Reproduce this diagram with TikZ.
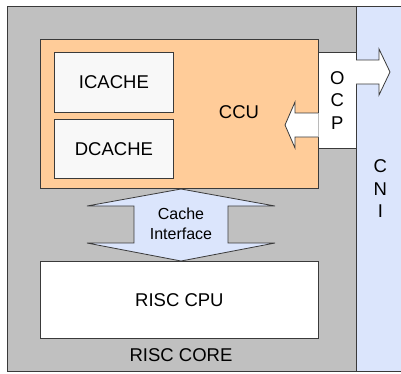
\documentclass[tikz,border=0pt]{standalone}
\usepackage{fontspec}
\setmainfont{Liberation Sans}
\usepackage{xcolor}
\usetikzlibrary{positioning, calc}

\definecolor{coregray}{HTML}{C0C0C0}
\definecolor{ccuorange}{HTML}{FFCC99}
\definecolor{cniblue}{HTML}{DBE5FC}
\definecolor{cachegray}{HTML}{F8F8F8}
\definecolor{edgegray}{HTML}{3A3A3A}

\begin{document}
\begin{tikzpicture}[x=1pt, y=-1pt,
    block/.style={rectangle, draw=edgegray, line width=0.8pt, anchor=north west, inner sep=0pt, align=center, font=\fontsize{18.5}{22.5}\selectfont},
    txt/.style={inner sep=0pt, align=center, font=\fontsize{18.5}{22.5}\selectfont},
    bigarrow/.style={draw=edgegray, line width=0.8pt, line join=miter}
]
    \useasboundingbox (0,0) rectangle (401,373);

    % Blocs extérieurs : cœur RISC et interface CNI
    \node[block, fill=coregray, minimum width=349pt, minimum height=365pt] (core) at (7,6) {};
    \node[block, fill=cniblue, minimum width=48pt, minimum height=365pt] (cni) at (356,6) {C\\N\\I};
    \node[txt] (corelabel) at (181,355) {RISC CORE};

    % Contrôleur de cache et ses mémoires
    \node[block, fill=ccuorange, minimum width=278pt, minimum height=149pt] (ccu) at (40,39) {};
    \node[block, fill=cachegray, minimum width=119pt, minimum height=60pt] (icache) at (54,52) {ICACHE};
    \node[block, fill=cachegray, minimum width=119pt, minimum height=59pt] (dcache) at (54,119) {DCACHE};
    \node[txt] (ccutext) at (239,112) {CCU};

    % Processeur
    \node[block, fill=white, minimum width=278pt, minimum height=77pt] (cpu) at (40,261) {RISC CPU};

    % Port OCP entre CCU et CNI
    \node[block, fill=white, minimum width=38pt, minimum height=96pt] (ocp) at (318,52) {O\\C\\P};

    % Flèche OCP vers CNI
    \fill[white] (355.5,60) -- (379,60) -- (379,49) -- (390,72) -- (379,95) -- (379,84) -- (355.5,84) -- cycle;
    \draw[bigarrow] (356,60) -- (379,60) -- (379,49) -- (390,72) -- (379,95) -- (379,84) -- (356,84);

    % Flèche OCP vers CCU
    \fill[white] (318.5,113) -- (295,113) -- (295,102) -- (285,125) -- (295,148) -- (295,137) -- (318.5,137) -- cycle;
    \draw[bigarrow] (318,113) -- (295,113) -- (295,102) -- (285,125) -- (295,148) -- (295,137) -- (318,137);

    % Interface de cache (double flèche entre CCU et CPU)
    \draw[bigarrow, fill=cniblue] (181,189) -- (275,206) -- (228,206) -- (228,243) -- (275,243) -- (181,261)
        -- (87,243) -- (134,243) -- (134,206) -- (87,206) -- cycle;
    \node[txt, font=\fontsize{16}{20}\selectfont] (cacheif) at (181,224) {Cache\\Interface};
\end{tikzpicture}
\end{document}
